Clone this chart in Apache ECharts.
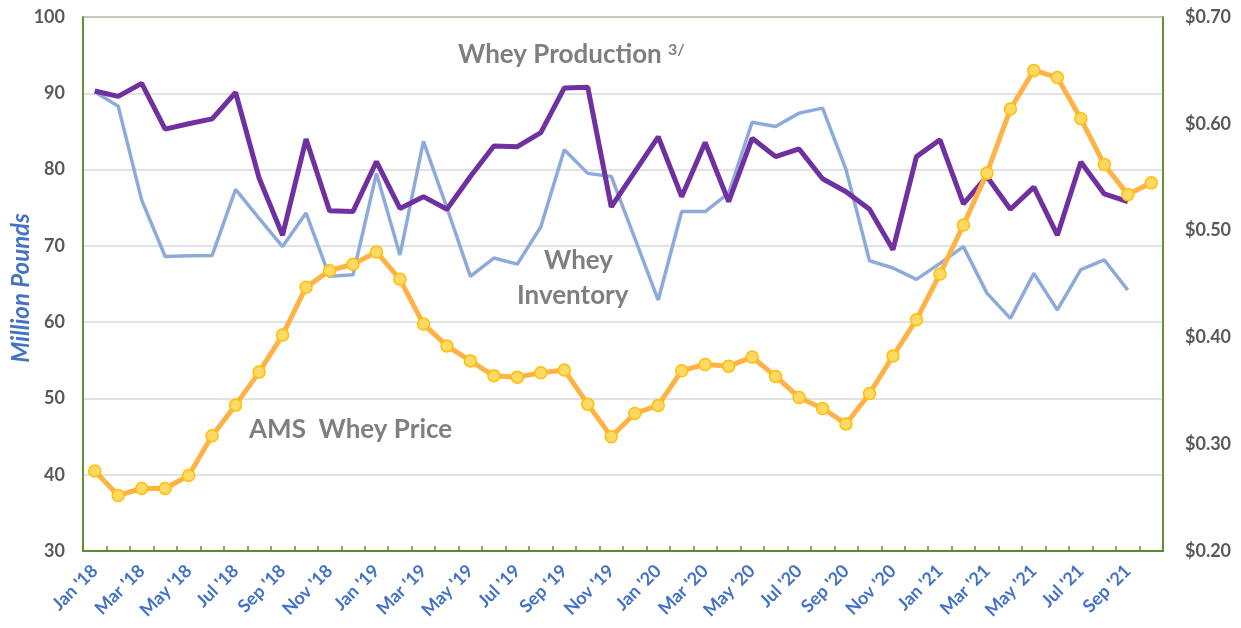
<!DOCTYPE html>
<html><head><meta charset="utf-8">
<script src="https://cdn.jsdelivr.net/npm/echarts@6/dist/echarts.min.js"></script>
<style>html,body{margin:0;padding:0;background:#fff}#c{width:1241px;height:628px}</style>
</head><body><div id="c"></div>
<script>
var months = ["Jan '18","Feb '18","Mar '18","Apr '18","May '18","Jun '18","Jul '18","Aug '18","Sep '18","Oct '18","Nov '18","Dec '18",
"Jan '19","Feb '19","Mar '19","Apr '19","May '19","Jun '19","Jul '19","Aug '19","Sep '19","Oct '19","Nov '19","Dec '19",
"Jan '20","Feb '20","Mar '20","Apr '20","May '20","Jun '20","Jul '20","Aug '20","Sep '20","Oct '20","Nov '20","Dec '20",
"Jan '21","Feb '21","Mar '21","Apr '21","May '21","Jun '21","Jul '21","Aug '21","Sep '21","Oct '21"];
var inventory = [90.2,88.3,76.0,68.6,68.7,68.75,77.4,73.6,69.9,74.3,66.0,66.2,
79.5,68.8,83.7,75.0,66.0,68.4,67.6,72.5,82.6,79.5,79.1,71.0,
62.9,74.5,74.5,76.9,86.2,85.65,87.4,88.05,80.0,68.05,67.1,65.6,
67.7,69.9,63.8,60.5,66.4,61.6,66.9,68.15,64.2,null];
var production = [90.3,89.6,91.3,85.3,86.0,86.65,90.1,78.9,71.4,84.0,74.6,74.5,
81.05,74.9,76.45,74.8,79.1,83.1,83.0,84.85,90.7,90.8,75.1,79.7,
84.3,76.45,83.55,75.8,84.1,81.7,82.7,78.8,77.1,74.8,69.5,81.7,
83.9,75.5,79.1,74.8,77.7,71.4,81.0,76.8,75.8,null];
var price = [0.275,0.252,0.2585,0.2585,0.2707,0.308,0.3366,0.3675,0.4022,0.447,0.4625,0.4685,
0.480,0.4544,0.4125,0.392,0.378,0.364,0.3628,0.3669,0.3694,0.3375,0.3069,0.3288,
0.3363,0.3688,0.3747,0.3731,0.3816,0.3635,0.3438,0.3335,0.319,0.3475,0.3825,0.4166,
0.4594,0.5053,0.5538,0.6138,0.650,0.6434,0.6047,0.5618,0.5337,0.5447];
var leftTicks = {min:30,max:100,interval:10};
var rightTicks = {min:0.2,max:0.7,interval:0.1};

var FONT = 'Lato, "Open Sans", sans-serif';
var green = '#5b8a2f';
var chart = echarts.init(document.getElementById('c'));
chart.setOption({
  animation:false,
  grid:{left:83,right:78,top:17,bottom:77,show:true,borderColor:green,borderWidth:1.5,containLabel:false,outerBoundsMode:'none'},
  xAxis:{type:'category',data:months,boundaryGap:true,
    axisLine:{lineStyle:{color:green,width:2}},
    axisTick:{show:true,inside:true,length:5,interval:0,lineStyle:{color:green,width:1.5}},
    axisLabel:{interval:1,rotate:45,color:'#4472c4',fontWeight:'bold',fontSize:18,fontFamily:FONT,margin:17},
    splitLine:{show:false}},
  yAxis:[
    {type:'value',min:leftTicks.min,max:leftTicks.max,interval:leftTicks.interval,
     axisLine:{show:true,lineStyle:{color:green,width:1.5}},axisTick:{show:false},
     axisLabel:{color:'#595959',fontWeight:'bold',fontSize:18,fontFamily:FONT,margin:18},
     splitLine:{lineStyle:{color:'#d9d9d9',width:1.5}}},
    {type:'value',min:rightTicks.min,max:rightTicks.max,interval:rightTicks.interval,position:'right',
     axisLine:{show:true,lineStyle:{color:green,width:1.5}},axisTick:{show:false},
     axisLabel:{color:'#595959',fontWeight:'bold',fontSize:18,fontFamily:FONT,margin:22,
       formatter:function(v){return '$'+v.toFixed(2);}},
     splitLine:{show:false}}
  ],
  series:[
    {name:'Whey Inventory',type:'line',data:inventory,yAxisIndex:0,symbol:'none',
     lineStyle:{color:'#8eaadb',width:3.5},itemStyle:{color:'#8eaadb'}},
    {name:'Whey Production',type:'line',data:production,yAxisIndex:0,symbol:'none',
     lineStyle:{color:'#7030a0',width:5},itemStyle:{color:'#7030a0'}},
    {name:'AMS Whey Price',type:'line',data:price,yAxisIndex:1,symbol:'circle',symbolSize:12,
     lineStyle:{color:'#ffb347',width:5},
     itemStyle:{color:'#ffd966',borderColor:'#ffc000',borderWidth:1.5}}
  ],
  graphic:[
    {type:'text',x:21,y:288,rotation:Math.PI/2,style:{text:'Million Pounds',fontSize:24,fontStyle:'italic',fontWeight:'bold',
      fill:'#4472c4',fontFamily:FONT,align:'center',verticalAlign:'middle'}},
    {type:'text',left:458,top:42,style:{text:'{a|Whey Production }{b|3/}',
      rich:{a:{fontSize:26,fontWeight:'bold',fill:'#7f7f7f',fontFamily:FONT},
            b:{fontSize:16,fontWeight:'bold',fill:'#7f7f7f',fontFamily:FONT,verticalAlign:'top',padding:[0,0,10,0]}}}},
    {type:'text',left:544,top:248,style:{text:'Whey',fontSize:26,fontWeight:'bold',fill:'#7f7f7f',fontFamily:FONT}},
    {type:'text',left:517,top:283,style:{text:'Inventory',fontSize:26,fontWeight:'bold',fill:'#7f7f7f',fontFamily:FONT}},
    {type:'text',left:249,top:417,style:{text:'AMS  Whey Price',fontSize:26,fontWeight:'bold',fill:'#7f7f7f',fontFamily:FONT}}
  ]
});
</script></body></html>
